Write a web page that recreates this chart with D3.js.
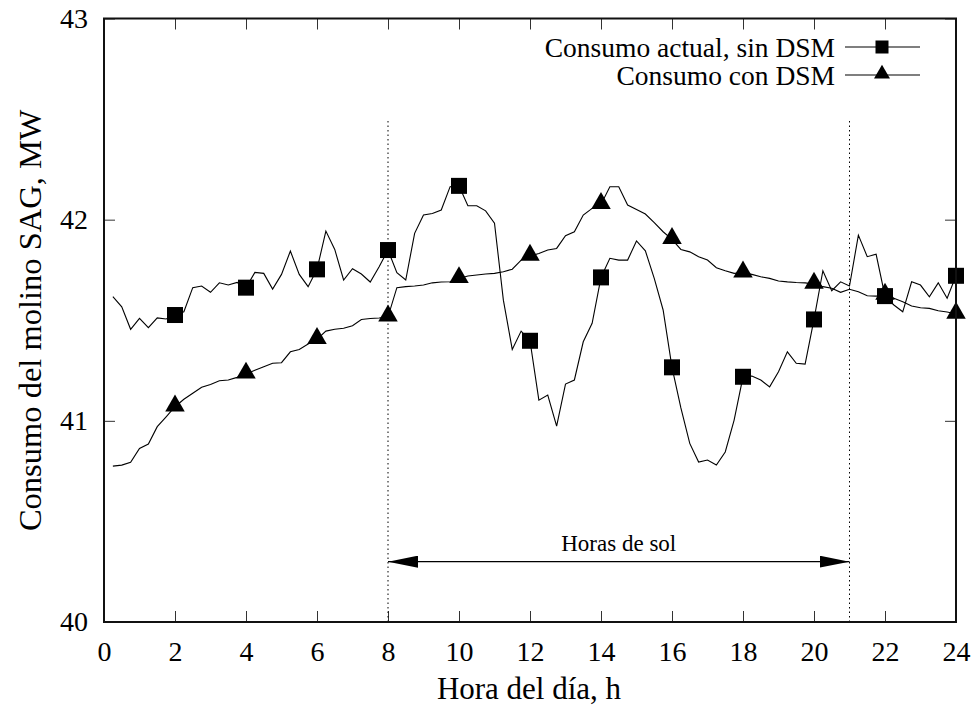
<!DOCTYPE html>
<html>
<head>
<meta charset="utf-8">
<script src="https://cdn.jsdelivr.net/npm/d3@7"></script>
<style>
  html, body { margin: 0; padding: 0; background: #fff; }
  svg text { font-family: "Liberation Serif", "Times New Roman", serif !important; fill: #000; }
</style>
</head>
<body>
<svg id="chart" width="977" height="709"></svg>
<script>
// Sampling instants, every 15 minutes across the day
const hours = d3.range(1, 97).map(i => i / 4);

// Mill consumption without demand-side management (MW)
const sinDSM = [
  41.617, 41.567, 41.455, 41.509, 41.463, 41.512, 41.506, 41.526,
  41.542, 41.662, 41.670, 41.639, 41.686, 41.675, 41.688, 41.662,
  41.738, 41.733, 41.655, 41.728, 41.844, 41.728, 41.667, 41.753,
  41.943, 41.852, 41.700, 41.756, 41.730, 41.690, 41.766, 41.849,
  41.736, 41.700, 41.932, 42.023, 42.031, 42.048, 42.164, 42.168,
  42.069, 42.069, 42.044, 41.982, 41.600, 41.355, 41.446, 41.398,
  41.103, 41.128, 40.974, 41.183, 41.203, 41.393, 41.485, 41.713,
  41.808, 41.799, 41.799, 41.894, 41.845, 41.708, 41.551, 41.266,
  41.064, 40.888, 40.795, 40.805, 40.780, 40.845, 41.004, 41.219,
  41.223, 41.203, 41.169, 41.244, 41.343, 41.286, 41.282, 41.504,
  41.746, 41.647, 41.691, 41.670, 41.923, 41.816, 41.828, 41.620,
  41.576, 41.542, 41.691, 41.675, 41.617, 41.686, 41.609, 41.721
];

// Mill consumption with demand-side management (MW)
const conDSM = [
  40.775, 40.780, 40.794, 40.863, 40.885, 40.971, 41.020, 41.070,
  41.107, 41.137, 41.167, 41.181, 41.199, 41.203, 41.216, 41.233,
  41.252, 41.269, 41.286, 41.289, 41.343, 41.355, 41.382, 41.405,
  41.446, 41.455, 41.460, 41.473, 41.504, 41.509, 41.511, 41.517,
  41.662, 41.667, 41.670, 41.675, 41.686, 41.690, 41.691, 41.708,
  41.720, 41.725, 41.730, 41.733, 41.741, 41.754, 41.799, 41.819,
  41.832, 41.849, 41.857, 41.920, 41.940, 42.023, 42.056, 42.076,
  42.164, 42.164, 42.073, 42.051, 42.028, 41.985, 41.940, 41.902,
  41.852, 41.840, 41.816, 41.799, 41.761, 41.746, 41.733, 41.736,
  41.728, 41.716, 41.708, 41.695, 41.691, 41.688, 41.686, 41.680,
  41.667, 41.659, 41.639, 41.654, 41.642, 41.622, 41.620, 41.625,
  41.609, 41.592, 41.571, 41.562, 41.559, 41.547, 41.541, 41.531
];

const seriesNames = ["Consumo actual, sin DSM", "Consumo con DSM"];
const xTicks = [0, 2, 4, 6, 8, 10, 12, 14, 16, 18, 20, 22, 24];
const yTicks = [40, 41, 42, 43];
const sunHours = [8, 21];
const sunLabel = "Horas de sol";
const sunLineTop = 42.5;
const sunArrowLevel = 40.3;

const svg = d3.select("#chart");
const plotL = 104, plotR = 956, plotT = 18.5, plotB = 622;

const x = d3.scaleLinear().domain([0, 24]).range([plotL, plotR]);
const y = d3.scaleLinear().domain([40, 43]).range([plotB, plotT]);
const fmt = d3.format("d");

// Inward ticks on all four sides
const tick = 11;
const styleLabels = g => {
  g.attr("font-family", null).attr("font-size", null);
  g.selectAll("text")
    .attr("font-family", "Liberation Serif")
    .style("font-family", "'Liberation Serif', serif").style("font-size", "28px");
};
svg.append("g").attr("transform", `translate(0,${plotB})`)
  .call(d3.axisBottom(x).tickValues(xTicks).tickFormat(fmt).tickSizeInner(-tick).tickSizeOuter(0).tickPadding(19))
  .call(g => g.select(".domain").remove())
  .call(styleLabels);
svg.append("g").attr("transform", `translate(0,${plotT})`)
  .call(d3.axisTop(x).tickValues(xTicks).tickSizeInner(-tick).tickSizeOuter(0).tickFormat(""))
  .call(g => g.select(".domain").remove());
svg.append("g").attr("transform", `translate(${plotL},0)`)
  .call(d3.axisLeft(y).tickValues(yTicks).tickFormat(fmt).tickSizeInner(-tick).tickSizeOuter(0).tickPadding(16))
  .call(g => g.select(".domain").remove())
  .call(styleLabels);
svg.append("g").attr("transform", `translate(${plotR},0)`)
  .call(d3.axisRight(y).tickValues(yTicks).tickSizeInner(-tick).tickSizeOuter(0).tickFormat(""))
  .call(g => g.select(".domain").remove());
svg.selectAll(".tick line").attr("stroke", "#333").attr("stroke-width", 1);

// Daylight window markers
svg.append("g").selectAll("line").data(sunHours).join("line")
  .attr("x1", d => x(d)).attr("x2", d => x(d))
  .attr("y1", y(40)).attr("y2", y(sunLineTop))
  .attr("stroke", "#000").attr("stroke-width", 1).attr("stroke-dasharray", "1.5,3");

const defs = svg.append("defs");
defs.append("marker").attr("id", "ahead").attr("viewBox", "0 0 30 12")
  .attr("refX", 30).attr("refY", 6).attr("markerWidth", 30).attr("markerHeight", 12)
  .attr("markerUnits", "userSpaceOnUse").attr("orient", "auto-start-reverse")
  .append("path").attr("d", "M0,0 L30,6 L0,12 Z").attr("fill", "#000");

svg.append("line")
  .attr("x1", x(sunHours[0])).attr("x2", x(sunHours[1]))
  .attr("y1", y(sunArrowLevel)).attr("y2", y(sunArrowLevel))
  .attr("stroke", "#000").attr("stroke-width", 1.3)
  .attr("marker-start", "url(#ahead)").attr("marker-end", "url(#ahead)");
svg.append("text")
  .attr("x", x((sunHours[0] + sunHours[1]) / 2)).attr("y", y(sunArrowLevel) - 11)
  .attr("text-anchor", "middle").attr("font-size", 23).text(sunLabel);

// Data lines
const line = d3.line().x((d, i) => x(hours[i])).y(d => y(d));
svg.append("path").datum(sinDSM).attr("d", line)
  .attr("fill", "none").attr("stroke", "#000").attr("stroke-width", 1.1);
svg.append("path").datum(conDSM).attr("d", line)
  .attr("fill", "none").attr("stroke", "#000").attr("stroke-width", 1.1);

// Point markers every two hours
const markIdx = hours.map((h, i) => i).filter(i => hours[i] % 2 === 0);
const sq = 16;
svg.append("g").selectAll("rect").data(markIdx).join("rect")
  .attr("x", i => x(hours[i]) - sq / 2).attr("y", i => y(sinDSM[i]) - sq / 2)
  .attr("width", sq).attr("height", sq).attr("fill", "#000");
const tri = d3.symbol().type(d3.symbolTriangle).size(165);
svg.append("g").selectAll("path").data(markIdx).join("path")
  .attr("transform", i => `translate(${x(hours[i])},${y(conDSM[i]) - 1})`)
  .attr("d", tri).attr("fill", "#000");

// Frame
svg.append("rect").attr("x", plotL).attr("y", plotT)
  .attr("width", plotR - plotL).attr("height", plotB - plotT)
  .attr("fill", "none").attr("stroke", "#111").attr("stroke-width", 2);

// Legend
const legend = svg.append("g");
const ly = [47, 75];
seriesNames.forEach((name, k) => {
  legend.append("text").attr("x", 835).attr("y", ly[k] + 10)
    .attr("text-anchor", "end").attr("font-size", 27.5).text(name);
  legend.append("line").attr("x1", 845).attr("x2", 920)
    .attr("y1", ly[k]).attr("y2", ly[k]).attr("stroke", "#000").attr("stroke-width", 1.1);
});
legend.append("rect").attr("x", 882 - 6.5).attr("y", ly[0] - 6.5)
  .attr("width", 13).attr("height", 13).attr("fill", "#000");
legend.append("path").attr("transform", `translate(882,${ly[1] - 1})`)
  .attr("d", d3.symbol().type(d3.symbolTriangle).size(110)).attr("fill", "#000");

// Axis titles
svg.append("text").attr("x", 529).attr("y", 699)
  .attr("text-anchor", "middle").attr("font-size", 31).text("Hora del día, h");
svg.append("text").attr("transform", `translate(41,${(plotT + plotB) / 2}) rotate(-90)`)
  .attr("text-anchor", "middle").attr("font-size", 32.5).text("Consumo del molino SAG, MW");
</script>
</body>
</html>
